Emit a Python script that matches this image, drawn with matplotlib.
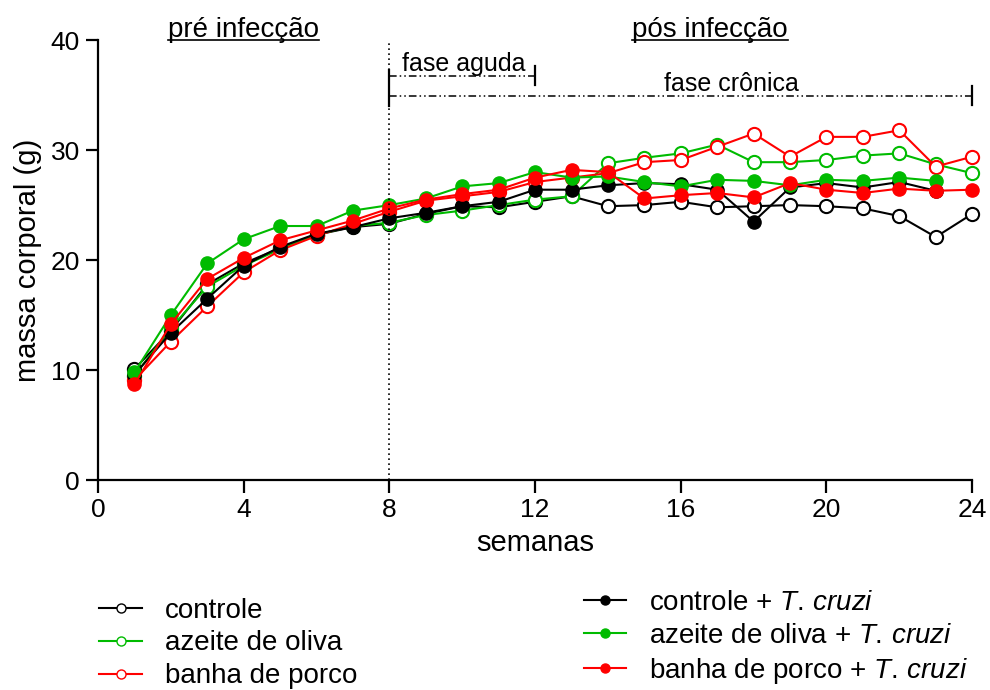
import matplotlib
matplotlib.use("Agg")
import matplotlib.pyplot as plt
from matplotlib.lines import Line2D

plt.rcParams['font.family'] = ['Liberation Sans', 'DejaVu Sans']
plt.rcParams['mathtext.fontset'] = 'custom'
plt.rcParams['mathtext.rm'] = 'Liberation Sans'
plt.rcParams['mathtext.it'] = 'Liberation Sans:italic'

semanas = list(range(1, 25))

controle = [10.1, 13.6, 17.8, 19.7, 21.1, 22.3, 23.0, 23.3, 24.2, 24.9, 24.8, 25.3,
            25.8, 24.9, 25.0, 25.3, 24.8, 24.9, 25.0, 24.9, 24.7, 24.0, 22.1, 24.2]
azeite = [9.5, 13.8, 17.6, 19.5, 21.0, 22.3, 23.1, 23.4, 24.1, 24.5, 25.0, 25.5,
          25.8, 28.8, 29.3, 29.7, 30.5, 28.9, 28.9, 29.1, 29.5, 29.7, 28.7, 27.9]
banha = [9.1, 12.6, 15.8, 18.9, 20.9, 22.2, 23.3, 24.4, 25.4, 25.8, 26.2, 27.1,
         27.5, 27.9, 28.9, 29.1, 30.3, 31.5, 29.4, 31.2, 31.2, 31.8, 28.5, 29.4]

controle_tc = [9.6, 13.4, 16.5, 19.5, 21.2, 22.4, 23.0, 23.8, 24.3, 24.9, 25.3, 26.4,
               26.4, 26.8, 27.0, 26.9, 26.4, 23.5, 26.6, 27.0, 26.6, 27.1, 26.3]
azeite_tc = [9.8, 15.0, 19.7, 21.9, 23.1, 23.1, 24.5, 25.0, 25.6, 26.7, 27.0, 28.0,
             27.5, 27.6, 27.1, 26.7, 27.3, 27.2, 26.8, 27.3, 27.2, 27.5, 27.2]
banha_tc = [8.7, 14.2, 18.3, 20.2, 21.8, 22.7, 23.6, 24.7, 25.5, 26.0, 26.4, 27.5,
            28.2, 28.0, 25.6, 25.9, 26.1, 25.7, 27.0, 26.4, 26.1, 26.5, 26.3, 26.4]

verde = '#00BB00'
vermelho = '#FF0000'
preto = '#000000'

fig = plt.figure(figsize=(9.9, 6.9), dpi=100)
ax = fig.add_axes([0.099, 0.304, 0.883, 0.638])

grupos_abertos = [(controle, preto, 'controle'),
                  (azeite, verde, 'azeite de oliva'),
                  (banha, vermelho, 'banha de porco')]
tc = '$\\mathit{T.\\,cruzi}$'
grupos_tc = [(controle_tc, preto, 'controle + ' + tc),
             (azeite_tc, verde, 'azeite de oliva + ' + tc),
             (banha_tc, vermelho, 'banha de porco + ' + tc)]

for vals, cor, _ in grupos_abertos:
    ax.plot(semanas[:len(vals)], vals, '-o', color=cor, lw=1.5, ms=9.5,
            mfc='white', mec=cor, mew=1.5, clip_on=False)
for vals, cor, _ in grupos_tc:
    ax.plot(semanas[:len(vals)], vals, '-o', color=cor, lw=1.5, ms=9.5,
            mfc=cor, mec=cor, clip_on=False)

ax.set_xlim(0, 24)
ax.set_ylim(0, 40)
ax.set_xticks(range(0, 25, 4))
ax.set_yticks(range(0, 41, 10))
ax.spines['top'].set_visible(False)
ax.spines['right'].set_visible(False)
ax.spines['left'].set_linewidth(1.6)
ax.spines['bottom'].set_linewidth(1.6)
ax.tick_params(direction='out', length=9, width=1.6, labelsize=19, pad=4)
ax.set_xlabel('semanas', fontsize=21, labelpad=5)
ax.set_ylabel('massa corporal (g)', fontsize=21, labelpad=6)

# inicio da infeccao
ax.axvline(8, color='black', ls=(0, (1, 2)), lw=1.2)

# fases da infeccao
traco = (0, (5, 2, 1, 2, 1, 2))
ax.plot([8, 12], [36.7, 36.7], color='black', lw=1.1, ls=traco, clip_on=False)
ax.plot([8, 24], [34.9, 34.9], color='black', lw=1.1, ls=traco, clip_on=False)
ax.plot([12, 12], [35.9, 37.6], color='black', lw=1.6, clip_on=False)
ax.plot([24, 24], [34.1, 35.8], color='black', lw=1.6, clip_on=False)
ax.plot([8, 8], [34.0, 37.3], color='black', lw=1.6, clip_on=False)
ax.text(8.35, 37.15, 'fase aguda', fontsize=18, ha='left', va='baseline')
ax.text(17.4, 35.35, 'fase crônica', fontsize=18, ha='center', va='baseline')

titulos = [ax.text(4.0, 40.3, 'pré infecção', fontsize=20, ha='center', va='baseline', clip_on=False),
           ax.text(16.8, 40.3, 'pós infecção', fontsize=20, ha='center', va='baseline', clip_on=False)]

# sublinhado dos titulos
fig.canvas.draw()
renderer = fig.canvas.get_renderer()
for t in titulos:
    bb = t.get_window_extent(renderer).transformed(fig.transFigure.inverted())
    y = bb.y0 + 0.004
    fig.add_artist(Line2D([bb.x0, bb.x1], [y, y], color='black', lw=1.2,
                          transform=fig.transFigure))

h_abertos = [Line2D([], [], color=c, marker='o', ms=6.5, mfc='white', mec=c, lw=1.5)
             for _, c, _ in grupos_abertos]
h_tc = [Line2D([], [], color=c, marker='o', ms=6.5, mfc=c, mec=c, lw=1.5)
        for _, c, _ in grupos_tc]

leg1 = fig.legend(h_abertos, [g[2] for g in grupos_abertos], loc='upper left',
                  bbox_to_anchor=(0.1, 0.134), frameon=False, fontsize=20,
                  handlelength=1.55, handletextpad=0.83, labelspacing=0.25,
                  borderaxespad=0, borderpad=0)
leg2 = fig.legend(h_tc, [g[2] for g in grupos_tc], loc='upper left',
                  bbox_to_anchor=(0.59, 0.145), frameon=False, fontsize=20,
                  handlelength=1.5, handletextpad=0.83, labelspacing=0.25,
                  borderaxespad=0, borderpad=0)

fig.savefig('out.png', dpi=100)
